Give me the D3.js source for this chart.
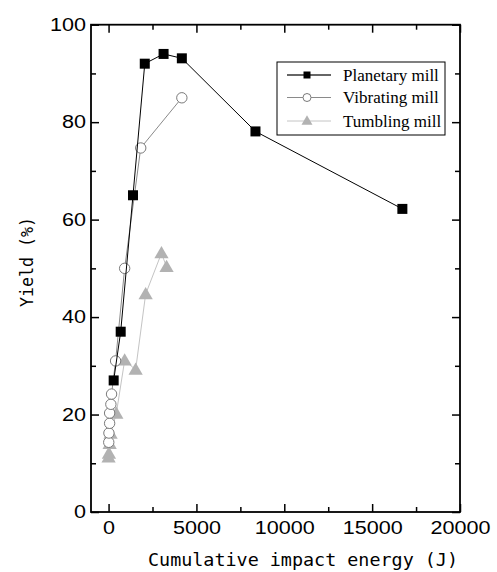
<!DOCTYPE html>
<html>
<head>
<meta charset="utf-8">
<script src="https://cdn.jsdelivr.net/npm/d3@7"></script>
<style>
  body { margin: 0; background: #fff; }
  svg { display: block; }
</style>
</head>
<body>
<div id="chart"></div>
<script>
// data
let planetaryEnergy = [290, 690, 1390, 2060, 3130, 4170, 8360, 16720]
let planetaryYield = [27, 37, 65, 92, 94, 93.1, 78.1, 62.2]

let vibratingEnergy = [10, 20, 60, 60, 130, 170, 400, 915, 1830, 4170]
let vibratingYield = [14.3, 16.2, 18.2, 20.3, 22.1, 24.2, 31, 50, 74.7, 85]

let tumblingEnergy = [0, 20, 60, 115, 440, 915, 1540, 2110, 3010, 3300]
let tumblingYield = [11.2, 12, 14, 16.1, 20.2, 31.1, 29.2, 44.7, 53.1, 50.3]

let xMajor = [0, 5000, 10000, 15000, 20000]
let xMinor = [2500, 7500, 12500, 17500]
let yMajor = [0, 20, 40, 60, 80, 100]
let yMinor = [10, 30, 50, 70, 90]

let seriesNames = ["Planetary mill", "Vibrating mill", "Tumbling mill"]

;(function () {
    let w = 497
    let h = 572
    let left = 91, right = 460, top = 24.7, bottom = 512

    let svg = d3.select("#chart")
        .append("svg")
        .attr("width", w)
        .attr("height", h)

    let x = d3.scaleLinear().domain([-1000, 20000]).range([left, right])
    let y = d3.scaleLinear().domain([0, 100]).range([bottom, top])

    let zip = (xs, ys) => xs.map((d, i) => ({ e: d, v: ys[i] }))
    let planetary = zip(planetaryEnergy, planetaryYield)
    let vibrating = zip(vibratingEnergy, vibratingYield)
    let tumbling = zip(tumblingEnergy, tumblingYield)

    let tickFont = "'Liberation Sans', Arial, sans-serif"

    // axes: major + minor ticks, all pointing inward
    let axes = svg.append("g").attr("class", "axes")

    let styleLabels = g => {
        g.selectAll("text")
            .style("font-family", tickFont)
            .style("font-size", "18px")
            .attr("fill", "#000")
            .attr("lengthAdjust", "spacingAndGlyphs")
            .attr("textLength", function () { return this.textContent.length * 12 })
    }

    axes.append("g")
        .attr("transform", "translate(0," + bottom + ")")
        .call(d3.axisBottom(x).tickValues(xMajor).tickSize(-8).tickPadding(9).tickFormat(d3.format("d")))
        .call(styleLabels)
    axes.append("g")
        .attr("transform", "translate(0," + bottom + ")")
        .call(d3.axisBottom(x).tickValues(xMinor).tickSize(-5).tickFormat(""))
    axes.append("g")
        .attr("transform", "translate(0," + top + ")")
        .call(d3.axisTop(x).tickValues(xMajor).tickSize(-8).tickFormat(""))
    axes.append("g")
        .attr("transform", "translate(0," + top + ")")
        .call(d3.axisTop(x).tickValues(xMinor).tickSize(-5).tickFormat(""))

    axes.append("g")
        .attr("transform", "translate(" + left + ",0)")
        .call(d3.axisLeft(y).tickValues(yMajor).tickSize(-8).tickPadding(5))
        .call(styleLabels)
    axes.append("g")
        .attr("transform", "translate(" + left + ",0)")
        .call(d3.axisLeft(y).tickValues(yMinor).tickSize(-5).tickFormat(""))
    axes.append("g")
        .attr("transform", "translate(" + right + ",0)")
        .call(d3.axisRight(y).tickValues(yMajor).tickSize(-8).tickFormat(""))
    axes.append("g")
        .attr("transform", "translate(" + right + ",0)")
        .call(d3.axisRight(y).tickValues(yMinor).tickSize(-5).tickFormat(""))

    axes.selectAll(".domain").remove()
    axes.selectAll(".tick line").attr("stroke", "#000").attr("stroke-width", 1.5)

    // frame
    svg.append("rect")
        .attr("x", left).attr("y", top)
        .attr("width", right - left).attr("height", bottom - top)
        .attr("fill", "none").attr("stroke", "#000").attr("stroke-width", 1.8)

    let line = d3.line().x(d => x(d.e)).y(d => y(d.v))

    // Tumbling mill
    svg.append("path")
        .datum(tumbling)
        .attr("fill", "none").attr("stroke", "#c4c4c4").attr("stroke-width", 1)
        .attr("d", line)
    let tri = d3.symbol().type(d3.symbolTriangle).size(88)
    svg.selectAll(".tri")
        .data(tumbling)
        .enter().append("path")
        .attr("transform", d => "translate(" + x(d.e) + "," + (y(d.v) + 1) + ")")
        .attr("d", tri)
        .attr("fill", "#b2b2b2")

    // Vibrating mill
    svg.append("path")
        .datum(vibrating)
        .attr("fill", "none").attr("stroke", "#8a8a8a").attr("stroke-width", 1)
        .attr("d", line)
    svg.selectAll(".circ")
        .data(vibrating)
        .enter().append("circle")
        .attr("cx", d => x(d.e)).attr("cy", d => y(d.v))
        .attr("r", 5.2)
        .attr("fill", "#fff").attr("stroke", "#7a7a7a").attr("stroke-width", 1)

    // Planetary mill
    svg.append("path")
        .datum(planetary)
        .attr("fill", "none").attr("stroke", "#000").attr("stroke-width", 1)
        .attr("d", line)
    svg.selectAll(".sq")
        .data(planetary)
        .enter().append("rect")
        .attr("x", d => x(d.e) - 5).attr("y", d => y(d.v) - 5)
        .attr("width", 10).attr("height", 10)
        .attr("fill", "#000")

    // legend
    let lg = svg.append("g")
    lg.append("rect")
        .attr("x", 277).attr("y", 62).attr("width", 168).attr("height", 73)
        .attr("fill", "#fff").attr("stroke", "#000").attr("stroke-width", 1)
    let rowY = [75, 97.5, 121]
    let lineCol = ["#333", "#8a8a8a", "#c4c4c4"]
    seriesNames.forEach((name, i) => {
        lg.append("line")
            .attr("x1", 287).attr("x2", 331)
            .attr("y1", rowY[i]).attr("y2", rowY[i])
            .attr("stroke", lineCol[i]).attr("stroke-width", i == 0 ? 1.5 : 1)
        if (i == 0) {
            lg.append("rect").attr("x", 303.5).attr("y", rowY[i] - 3.5)
                .attr("width", 7).attr("height", 7).attr("fill", "#000")
        } else if (i == 1) {
            lg.append("circle").attr("cx", 307).attr("cy", rowY[i]).attr("r", 4)
                .attr("fill", "#fff").attr("stroke", "#7a7a7a")
        } else {
            lg.append("path")
                .attr("transform", "translate(307," + (rowY[i] + 0.5) + ")")
                .attr("d", d3.symbol().type(d3.symbolTriangle).size(52))
                .attr("fill", "#b2b2b2")
        }
        lg.append("text")
            .attr("x", 343).attr("y", rowY[i] + 5.5)
            .style("font-family", "'Liberation Serif', 'Times New Roman', serif")
            .style("font-size", "17px")
            .text(name)
    })

    // axis titles
    let titleFont = "'DejaVu Sans Mono', monospace"
    svg.append("text")
        .attr("x", 303).attr("y", 566)
        .style("text-anchor", "middle")
        .style("font-family", titleFont)
        .style("font-size", "17px")
        .attr("textLength", 310)
        .attr("lengthAdjust", "spacingAndGlyphs")
        .text("Cumulative impact energy (J)")

    svg.append("text")
        .attr("transform", "rotate(-90)")
        .attr("x", -262).attr("y", 33)
        .style("text-anchor", "middle")
        .style("font-family", titleFont)
        .style("font-size", "17px")
        .attr("textLength", 90)
        .attr("lengthAdjust", "spacingAndGlyphs")
        .text("Yield (%)")
})()
</script>
</body>
</html>
